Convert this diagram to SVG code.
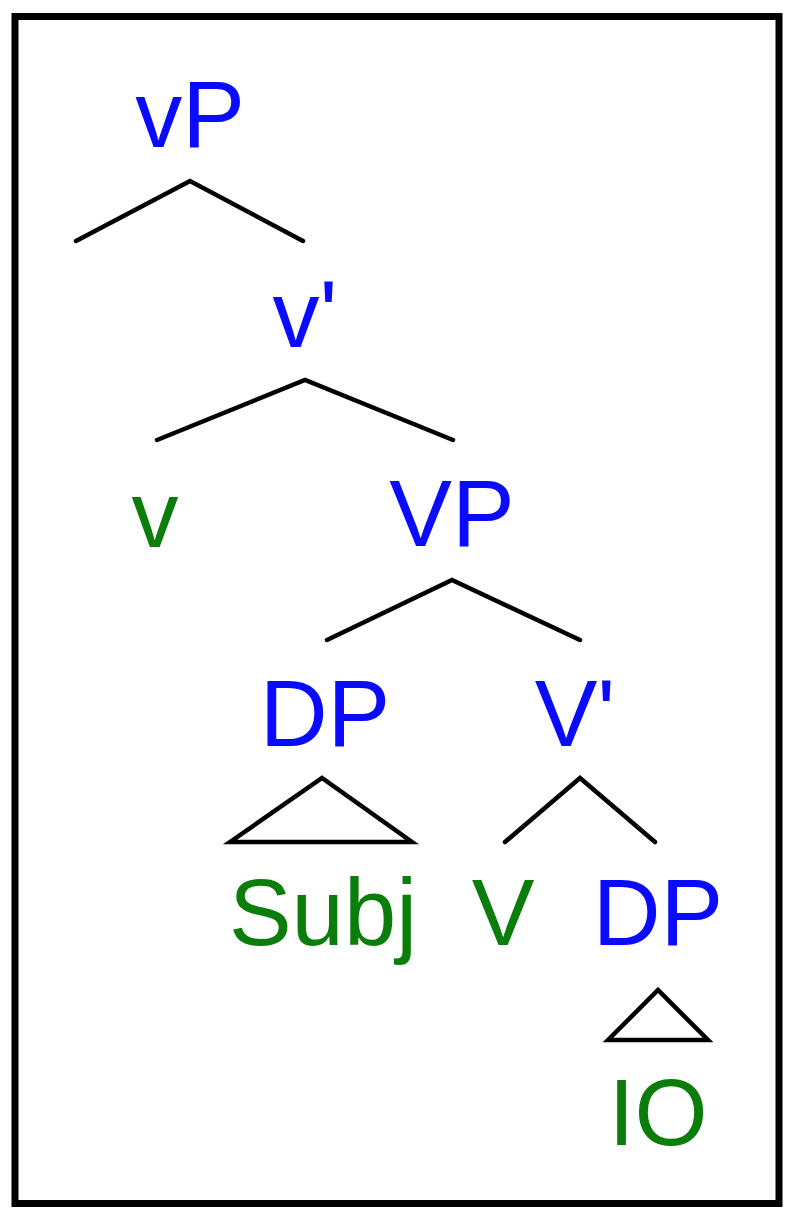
<svg xmlns="http://www.w3.org/2000/svg" width="795" height="1221" viewBox="0 0 795 1221">
<style>
text{font-family:"Liberation Sans",Arial,sans-serif;font-size:94px;text-anchor:middle}
.b{fill:#0a0aff}
.g{fill:#0a7d0a}
.e{fill:none;stroke:#000;stroke-width:4.5;stroke-linejoin:miter;stroke-linecap:round}
</style>
<rect x="15" y="16.5" width="764" height="1187" fill="#fff" stroke="#000" stroke-width="7"/>
<g id="connectors">
<polyline class="e" points="76,241 190,181 303,241"/>
<polyline class="e" points="157,440 305,380 453,440"/>
<polyline class="e" points="327,640 452,580 580,640"/>
<polygon class="e" points="230,842 322,778 412,842"/>
<polyline class="e" points="505,842 580,778 655,842"/>
<polygon class="e" points="608,1040 658,990 708,1040"/>
</g>
<g id="n-vP"><text class="b" x="190" y="147">vP</text></g>
<g id="n-v-bar"><text class="b" x="305" y="347">v'</text></g>
<g id="n-v"><text class="g" x="155" y="547">v</text></g>
<g id="n-VP"><text class="b" x="452" y="546">VP</text></g>
<g id="n-DP1"><text class="b" x="325" y="746">DP</text></g>
<g id="n-V-bar"><text class="b" x="575" y="746">V'</text></g>
<g id="n-Subj"><text class="g" x="323" y="945">Subj</text></g>
<g id="n-V"><text class="g" x="503" y="945">V</text></g>
<g id="n-DP2"><text class="b" x="658" y="945">DP</text></g>
<g id="n-IO"><text class="g" x="658" y="1145">IO</text></g>
</svg>
